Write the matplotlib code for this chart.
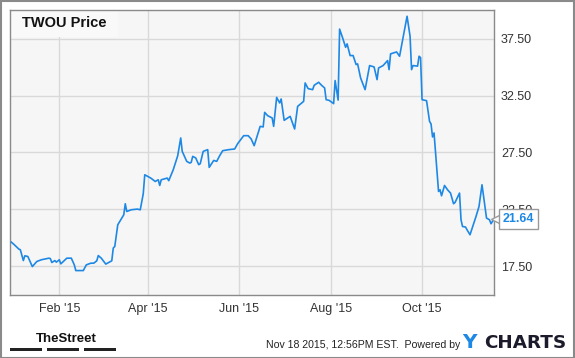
import matplotlib
matplotlib.use('Agg')
import matplotlib.pyplot as plt
import matplotlib.dates as mdates
from matplotlib.patches import Rectangle
import pandas as pd

# TWOU daily close, days counted from 2015-01-01
days = [-1, 1, 4, 5, 7, 8, 10, 13, 14, 16,
        19, 24, 25, 26, 28, 29, 31, 32, 36, 39,
        41, 42, 47, 49, 52, 54, 56, 57, 59, 62,
        66, 67, 68, 70, 74, 75, 76, 79, 83, 85,
        87, 88, 92, 95, 97, 98, 99, 103, 104, 107,
        110, 112, 113, 116, 118, 119, 120, 122, 124, 125,
        127, 130, 131, 134, 136, 138, 140, 144, 148, 150,
        154, 157, 159, 161, 165, 167, 168, 170, 173, 174,
        176, 178, 179, 181, 185, 188, 190, 194, 195, 197,
        200, 201, 204, 206, 208, 209, 211, 214, 215, 217,
        218, 220, 222, 223, 225, 227, 229, 230, 232, 235,
        238, 241, 243, 244, 247, 250, 251, 252, 256, 258,
        263, 265, 266, 267, 270, 271, 272, 273, 276, 278,
        279, 280, 281, 284, 285, 286, 288, 290, 292, 294,
        295, 298, 299, 300, 302, 303, 305, 309, 311, 313,
        316, 318, 319, 321]
prices = [19.61, 19.38, 19.00, 18.94, 17.99, 18.41, 18.35, 17.46, 17.61, 17.91,
          18.06, 18.20, 18.17, 17.82, 17.99, 17.85, 18.06, 17.70, 18.20, 18.20,
          17.61, 17.11, 17.11, 17.61, 17.76, 17.76, 17.97, 18.43, 18.20, 17.68,
          17.97, 19.09, 19.23, 21.14, 22.02, 22.99, 22.31, 22.46, 22.52, 22.46,
          23.87, 25.54, 25.25, 24.95, 25.10, 24.60, 25.10, 25.25, 25.02, 25.98,
          27.22, 28.78, 27.60, 26.72, 26.57, 26.63, 27.16, 27.02, 26.43, 26.51,
          27.60, 27.75, 26.19, 26.80, 26.72, 27.22, 27.66, 27.75, 27.81, 28.28,
          28.98, 28.98, 28.69, 28.10, 29.80, 29.75, 31.03, 30.74, 30.54, 29.80,
          32.35, 31.86, 32.21, 30.33, 30.68, 29.57, 31.56, 32.00, 33.62, 33.12,
          33.03, 33.41, 33.68, 33.41, 33.18, 32.15, 32.09, 31.80, 33.83, 32.11,
          38.36, 37.59, 36.76, 37.06, 36.03, 36.03, 35.24, 35.30, 34.06, 33.03,
          35.15, 35.03, 33.91, 34.94, 35.15, 35.59, 34.79, 36.18, 36.35, 35.97,
          39.49, 37.73, 34.79, 35.15, 35.10, 35.97, 35.85, 32.15, 32.06, 30.24,
          30.01, 28.87, 29.22, 24.07, 24.22, 23.69, 24.60, 24.22, 23.93, 22.99,
          23.10, 23.93, 21.58, 20.99, 20.94, 20.70, 20.26, 21.87, 22.75, 24.66,
          21.73, 21.58, 21.23, 21.64]

yticks = [17.5, 22.5, 27.5, 32.5, 37.5]
xtick_dates = ['2015-02-01', '2015-04-01', '2015-06-01', '2015-08-01', '2015-10-01']
xtick_labels = ["Feb '15", "Apr '15", "Jun '15", "Aug '15", "Oct '15"]

blue = '#1e88e5'
plt.rcParams['font.family'] = 'Liberation Sans'

start = pd.Timestamp('2015-01-01')
dates = start + pd.to_timedelta(days, unit='D')

W, H = 575, 358
fig = plt.figure(figsize=(W / 100, H / 100), dpi=100)

def fx(px):
    return px / W

def fy(py):
    return 1 - py / H

# plot area in pixels: x 10..494, y 10..295
ax = fig.add_axes([fx(10.3), fy(295), fx(494) - fx(10.3), fy(10) - fy(295)])
ax.set_facecolor('#f6f6f6')
ax.plot(dates, prices, color=blue, lw=1.2, zorder=3)

ax.set_xlim(mdates.date2num(start) - 1.7, mdates.date2num(start) + 321)
ax.set_ylim(14.96, 40.04)

ax.set_yticks(yticks)
ax.set_yticklabels(['%.2f' % v for v in yticks])
ax.yaxis.tick_right()
ax.set_xticks(pd.to_datetime(xtick_dates))
ax.set_xticklabels(xtick_labels)
ax.tick_params(length=0, labelsize=9, colors='#333333')
ax.tick_params(axis='y', pad=5)
ax.tick_params(axis='x', pad=6)
ax.grid(True, color='#d9d9d9', lw=1)
ax.set_axisbelow(True)
for s in ax.spines.values():
    s.set_color('#8a8a8a')
    s.set_linewidth(1)

# title box in the corner
ax.add_patch(Rectangle((0, 0.906), 0.223, 0.094, transform=ax.transAxes,
                       facecolor='#f9f9f9', edgecolor='none', zorder=2))
ax.text(0.024, 0.953, 'TWOU Price', transform=ax.transAxes, fontsize=10.5,
        fontweight='bold', color='#111111', va='center', ha='left', zorder=4)

# last value tag
ax.plot([1.004], [prices[-1]], marker='<', ms=7, mfc='white', mec='#999999',
        mew=1, transform=ax.get_yaxis_transform(), clip_on=False, zorder=5)
ax.annotate('%.2f' % prices[-1], xy=(1, prices[-1]),
            xycoords=('axes fraction', 'data'), xytext=(6, 0),
            textcoords='offset points', ha='left', va='center', fontsize=9,
            fontweight='bold', color=blue, annotation_clip=False, zorder=6,
            bbox=dict(boxstyle='square,pad=0.3', fc='white', ec='#999999', lw=1))

# footer
fig.text(fx(36), fy(342), 'TheStreet', fontsize=9.5, fontweight='bold',
         family=['Liberation Sans Narrow', 'Liberation Sans'], color='#111111',
         ha='left', va='baseline')
for x0, x1 in [(10.3, 42.3), (47, 79), (83.7, 115.7)]:
    fig.patches.append(Rectangle((fx(x0), fy(350.7)), fx(x1) - fx(x0), 3 / H,
                                 transform=fig.transFigure, facecolor='#222222',
                                 edgecolor='none'))
fig.text(fx(460), fy(348), 'Nov 18 2015, 12:56PM EST.  Powered by', fontsize=7.6,
         color='#222222', ha='right', va='baseline')
fig.text(fx(462), fy(348), 'Y', fontsize=14.5, fontweight='bold', color=blue,
         family='DejaVu Sans', ha='left', va='baseline')
fig.text(fx(484), fy(348), 'CHARTS', fontsize=13.2, fontweight='bold',
         color='#1b1b2b', family='DejaVu Sans', ha='left', va='baseline')

# outer border
fig.patches.append(Rectangle((0.5 / W, 0.5 / H), 1 - 1.5 / W, 1 - 1.5 / H,
                             transform=fig.transFigure, fill=False,
                             edgecolor='#8a8a8a', lw=1.5))

fig.savefig('out.png', dpi=100)
